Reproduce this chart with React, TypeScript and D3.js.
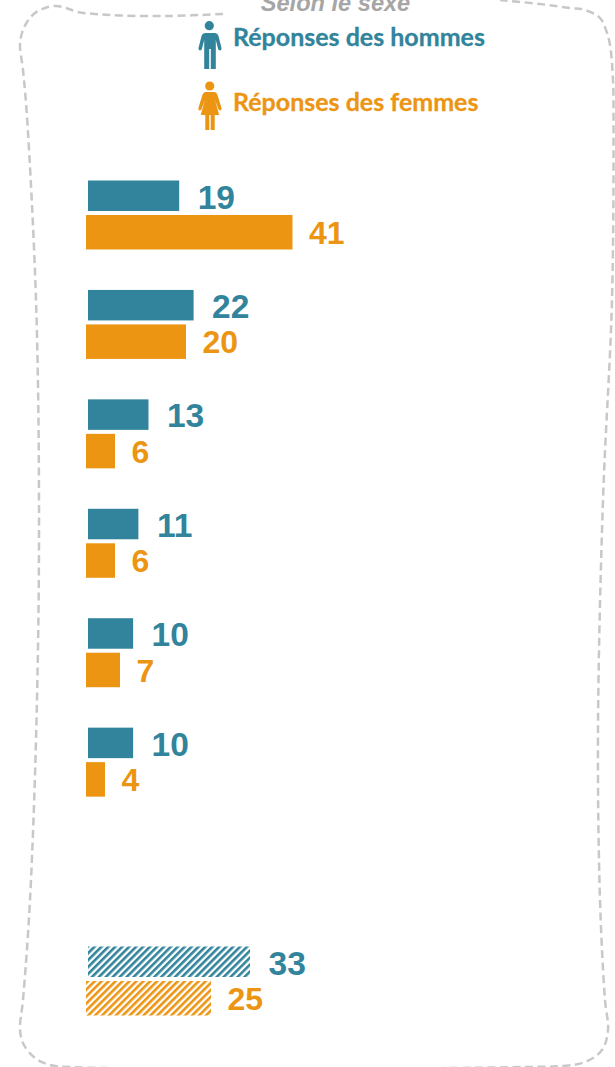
import React from "react";
import * as d3 from "d3";

const W = 615;
const H = 1067;
const TEAL = "#31849b";
const ORANGE = "#ec9512";
const GREY = "#c8c8c8";

// row index: row 6 stays empty, the last pair sits on row 7
const rows = [0, 1, 2, 3, 4, 5, 7];
const menValues = [19, 22, 12.6, 10.5, 9.4, 9.4, 33.75];
const womenValues = [41.3, 20, 5.8, 5.8, 6.8, 3.8, 25];
const menLabels = ["19", "22", "13", "11", "10", "10", "33"];
const womenLabels = ["41", "20", "6", "6", "7", "4", "25"];
const hatchedRow = 7;

const titleText = "Selon le sexe";
const legendMen = "Réponses des hommes";
const legendWomen = "Réponses des femmes";

const borderPoints: [number, number][] = [
  [223, 14], [170, 16], [120, 15.5], [95, 14], [78, 12], [66, 8], [56, 6], [45, 8], [35, 13], [27, 22], [22, 33], [20, 45],
  [23, 70], [27, 117], [36, 300], [39, 500], [37, 700], [30, 900], [23, 1000], [20, 1030], [24, 1045], [35, 1058], [50, 1065], [70, 1067],
  [300, 1069], [525, 1067], [562, 1066], [585, 1062], [602, 1050], [608, 1030], [605, 1000], [600, 900], [598, 730],
  [603, 500], [612, 300], [613.5, 117], [613, 80], [610, 45], [606, 30], [600, 18], [585, 10], [570, 8], [540, 4], [500, 0],
];

const xMen = d3.scaleLinear().domain([0, 10]).range([88, 136]);
const xWomen = d3.scaleLinear().domain([0, 10]).range([86, 136]);
const yRow = d3.scaleLinear().domain([0, 7]).range([180.5, 946.5]);

const borderPath = d3.line().curve(d3.curveCatmullRom.alpha(0.5))(borderPoints) ?? "";

const manPath =
  "M204.5 33 h10 q3 0 4 3 l3 12 q.4 2 -1.2 2.4 q-1.6 .3 -2.2 -1.4 l-2.3 -9 v29 h-5 v-20 h-1.6 v20 h-5 v-29 l-2.3 9 q-.6 1.7 -2.2 1.4 q-1.6 -.4 -1.2 -2.4 l3 -12 q1 -3 4 -3 z";
const womanPath =
  "M205.5 92 h8.5 q2.5 0 3.5 3 l4 13 q.5 2 -1 2.4 q-1.6 .4 -2.2 -1.4 l-3.3 -9 l4.2 15 h-4.5 v15 h-4 v-15 h-1.4 v15 h-4 v-15 h-4.6 l4.2 -15 l-3.3 9 q-.6 1.8 -2.2 1.4 q-1.5 -.4 -1 -2.4 l4 -13 q1 -3 3.1 -3 z";

export default function App() {
  const labelFont = "'Liberation Sans', Arial, sans-serif";
  const legendFont = "Lato, 'Open Sans', sans-serif";
  return (
    <svg
      width={W}
      height={H}
      viewBox={`0 0 ${W} ${H}`}
      style={{ position: "absolute", left: 0, top: 0, background: "#fff" }}
    >
      <defs>
        <pattern id="hatchTeal" width={4.9} height={4.9} patternUnits="userSpaceOnUse" patternTransform="rotate(45)">
          <rect width={4.9} height={4.9} fill="#fff" />
          <rect width={2.6} height={4.9} fill={TEAL} />
        </pattern>
        <pattern id="hatchOrange" width={4.9} height={4.9} patternUnits="userSpaceOnUse" patternTransform="rotate(45)">
          <rect width={4.9} height={4.9} fill="#fff" />
          <rect width={2.6} height={4.9} fill={ORANGE} />
        </pattern>
      </defs>

      <path d={borderPath} fill="none" stroke={GREY} strokeWidth={2.5} strokeDasharray="8 4.5" />

      <text
        x={335.5}
        y={11}
        textAnchor="middle"
        fontFamily={labelFont}
        fontWeight="bold"
        fontStyle="italic"
        fontSize={23.6}
        fill="#a6a6a6"
      >
        {titleText}
      </text>

      <circle cx={209.3} cy={25.7} r={4.6} fill={TEAL} />
      <path d={manPath} fill={TEAL} />
      <text x={233} y={45.5} fontFamily={legendFont} fontWeight="bold" fontSize={25} stroke={TEAL} strokeWidth={0.3} fill={TEAL}>
        {legendMen}
      </text>

      <circle cx={209.7} cy={86} r={4.6} fill={ORANGE} />
      <path d={womanPath} fill={ORANGE} />
      <text x={233} y={110.5} fontFamily={legendFont} fontWeight="bold" fontSize={25} stroke={ORANGE} strokeWidth={0.3} fill={ORANGE}>
        {legendWomen}
      </text>

      {rows.map((row, i) => {
        const top = yRow(row);
        const hatched = row === hatchedRow;
        return (
          <g key={row}>
            <rect
              x={xMen(0)}
              y={top}
              width={xMen(menValues[i]) - xMen(0)}
              height={30.5}
              fill={hatched ? "url(#hatchTeal)" : TEAL}
            />
            <rect
              x={xWomen(0)}
              y={top + 34.5}
              width={xWomen(womenValues[i]) - xWomen(0)}
              height={34.5}
              fill={hatched ? "url(#hatchOrange)" : ORANGE}
            />
            <text
              x={xMen(menValues[i]) + 18.5}
              y={top + 28}
              fontFamily={labelFont}
              fontWeight="bold"
              fontSize={33.5}
              fill={TEAL}
            >
              {menLabels[i]}
            </text>
            <text
              x={xWomen(womenValues[i]) + 16.5}
              y={top + 63.5}
              fontFamily={labelFont}
              fontWeight="bold"
              fontSize={32}
              fill={ORANGE}
            >
              {womenLabels[i]}
            </text>
          </g>
        );
      })}
    </svg>
  );
}
